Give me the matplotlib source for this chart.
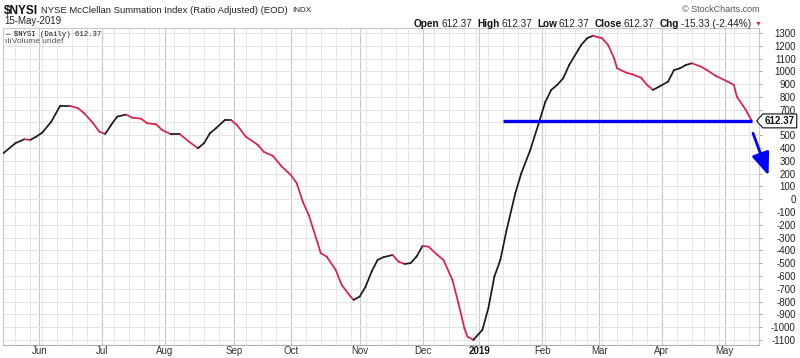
import numpy as np
import matplotlib
matplotlib.use("Agg")
import matplotlib.pyplot as plt
from matplotlib.collections import LineCollection
from matplotlib.path import Path
import matplotlib.transforms as mtransforms

plt.rcParams["font.family"] = ["Liberation Sans", "DejaVu Sans"]
plt.rcParams["axes.unicode_minus"] = False

# ── Data ──────────────────────────────────────────────────────────────────────
START_DATE = "2018-05-15"
END_DATE   = "2019-05-16"          # exclusive
NYSE_HOLIDAYS = ["2018-05-28", "2018-07-04", "2018-09-03", "2018-11-22",
                 "2018-12-05", "2018-12-25", "2019-01-01", "2019-01-21",
                 "2019-02-18", "2019-04-19"]

# trading-session number since START_DATE, and $NYSI value
session = [0, 4, 7, 9, 11, 13, 16, 19, 22, 25,
           27, 30, 32, 34, 36, 38, 41, 43, 46, 48,
           51, 53, 56, 59, 62, 65, 67, 69, 71, 74,
           76, 78, 81, 85, 87, 90, 93, 96, 98, 100,
           102, 105, 106, 108, 111, 113, 116, 117, 119, 121,
           123, 125, 127, 130, 132, 134, 136, 138, 140, 142,
           145, 147, 150, 152, 154, 155, 157, 160, 162, 164,
           166, 168, 171, 173, 176, 179, 181, 183, 185, 187,
           189, 192, 193, 195, 197, 198, 200, 202, 204, 205,
           208, 210, 213, 215, 217, 219, 222, 224, 226, 228,
           230, 233, 235, 238, 242, 244, 245, 248, 250]
nysi = [360, 438, 469, 464, 490, 521, 607, 732, 732, 711,
        672, 594, 529, 510, 581, 646, 662, 638, 630, 594,
        586, 542, 508, 508, 450, 399, 438, 516, 555, 620,
        620, 581, 489, 425, 370, 339, 255, 190, 125, -19,
        -123, -344, -422, -449, -553, -670, -762, -787, -762, -683,
        -566, -475, -453, -436, -488, -506, -500, -449, -365, -371,
        -436, -475, -631, -813, -1010, -1074, -1100, -1022, -852, -605,
        -475, -250, 47, 203, 385, 607, 760, 855, 894, 946,
        1050, 1167, 1206, 1259, 1279, 1271, 1259, 1206, 1102, 1024,
        990, 977, 951, 894, 855, 880, 919, 1010, 1024, 1050,
        1063, 1037, 1010, 964, 919, 894, 802, 698, 612.37]

LAST_CLOSE   = 612.37
SUPPORT_FROM = 167                  # session where the blue level starts
MONTH_LABELS = ["Jun", "Jul", "Aug", "Sep", "Oct", "Nov", "Dec",
                "2019", "Feb", "Mar", "Apr", "May"]
Y_TICKS = list(range(-1100, 1301, 100))

# ── Colours ───────────────────────────────────────────────────────────────────
UP_COLOR   = "#1a1a1a"
DOWN_COLOR = "#dc1f48"
BLUE       = "#0000ff"

# ── Trading calendar -> month / week grid positions ──────────────────────────
days = np.arange(np.datetime64(START_DATE), np.datetime64(END_DATE))
sessions = days[np.is_busday(days, holidays=NYSE_HOLIDAYS)]
months = sessions.astype("datetime64[M]")
month_start = np.flatnonzero(months[1:] != months[:-1]) + 1
weekday = (sessions.astype("int64") + 3) % 7
week_start = np.flatnonzero(weekday[1:] < weekday[:-1]) + 1

W, H = 800, 358
fig = plt.figure(figsize=(W / 100, H / 100), dpi=100)
ax = fig.add_axes([3 / W, 1 - 345 / H, 756 / W, 317 / H])


def px(x, y):
    return x / W, 1 - y / H


# ── Price line, coloured by direction ─────────────────────────────────────────
pts = np.column_stack([session, nysi])
segs = np.stack([pts[:-1], pts[1:]], axis=1)
cols = [UP_COLOR if b >= a else DOWN_COLOR for a, b in zip(nysi[:-1], nysi[1:])]
lc = LineCollection(segs, colors=cols, linewidths=1.25, capstyle="round",
                    joinstyle="round", zorder=3)
ax.add_collection(lc)

ax.hlines(LAST_CLOSE, SUPPORT_FROM, session[-1], color=BLUE, lw=2.4, zorder=4)
ax.annotate("", xy=(255.6, 185), xytext=(250.4, 516),
            arrowprops=dict(arrowstyle="-|>,head_length=1.15,head_width=0.45",
                            color=BLUE, lw=2.0, mutation_scale=12,
                            shrinkA=0, shrinkB=0),
            annotation_clip=False, zorder=6)

ax.set_xlim(-0.13, 252.4)
ax.set_ylim(-1140, 1339)

# ── Grid ──────────────────────────────────────────────────────────────────────
ax.set_xticks(month_start)
ax.set_xticklabels(MONTH_LABELS)
ax.set_xticks(week_start, minor=True)
ax.xaxis.grid(True, which="major", color="#c8c8c8", lw=0.8)
ax.xaxis.grid(True, which="minor", color="#e6e6e6", lw=0.7)
ax.yaxis.grid(True, which="major", color="#e3e3e3", lw=0.7)
ax.set_axisbelow(True)
ax.tick_params(axis="x", which="both", length=0, pad=1, labelsize=7,
               labelcolor="#333333")
for lbl in ax.get_xticklabels():
    if lbl.get_text() == "2019":
        lbl.set_fontweight("bold")
        lbl.set_color("#111111")

ax.yaxis.tick_right()
ax.set_yticks(Y_TICKS)
# the last-value tag sits over the 600 label, as in the original
ax.set_yticklabels(["" if v == 600 else str(v) for v in Y_TICKS])
ax.tick_params(axis="y", length=2.5, width=0.6, color="#999999", pad=24,
               labelsize=7, labelcolor="#222222")
for lbl in ax.get_yticklabels():
    lbl.set_horizontalalignment("right")

for side in ["left", "right", "top"]:
    ax.spines[side].set_color("#c8c8c8")
    ax.spines[side].set_linewidth(0.8)
ax.spines["bottom"].set_color("#b0b0b0")
ax.spines["bottom"].set_linestyle((0, (1, 1)))
ax.spines["bottom"].set_linewidth(0.8)


# ── Last-value tag ────────────────────────────────────────────────────────────
def tag_box(x0, y0, width, height, mutation_size):
    pad = 0.2 * mutation_size
    x0, y0 = x0 - pad, y0 - pad
    x1, y1 = x0 + width + 2 * pad, y0 + height + 2 * pad
    tip = (y1 - y0) * 0.45
    verts = [(x0, y0), (x1, y0), (x1, y1), (x0, y1), (x0 - tip, (y0 + y1) / 2), (x0, y0)]
    return Path(verts, closed=True)


blend = mtransforms.blended_transform_factory(ax.transAxes, ax.transData)
ax.text(1.0275, LAST_CLOSE, f"{LAST_CLOSE:.2f}", transform=blend, ha="center",
        va="center", fontsize=7, fontweight="bold", color="#111111",
        bbox=dict(boxstyle=tag_box, fc="white", ec="#111111", lw=0.8), zorder=7)

# ── Header text ───────────────────────────────────────────────────────────────
renderer = fig.canvas.get_renderer()


def text_run(x, y, pieces, align="left"):
    """pieces: list of (text, size, weight, color, gap_px_after)"""
    objs, widths = [], []
    for txt, size, weight, color, gap in pieces:
        t = fig.text(0, 0, txt, fontsize=size, fontweight=weight, color=color,
                     va="center", ha="left")
        objs.append(t)
        widths.append(t.get_window_extent(renderer).width + gap)
    total = sum(widths) - pieces[-1][4]
    cur = x if align == "left" else x - total
    for t, w in zip(objs, widths):
        t.set_position(px(cur, y))
        cur += w


text_run(4, 10.5, [("$NYSI", 8.6, "bold", "#111111", 3),
                   ("NYSE McClellan Summation Index (Ratio Adjusted) (EOD)", 6.8, "normal", "#222222", 4),
                   ("INDX", 5.8, "normal", "#222222", 0)])
fig.text(*px(4, 21.5), "15-May-2019", fontsize=7, color="#222222", va="center")
fig.text(*px(760, 9), "\u00a9 StockCharts.com", fontsize=6.5, color="#555555",
         va="center", ha="right")
text_run(751, 24, [("Open", 7.2, "bold", "#111111", 2), ("612.37", 7.2, "normal", "#222222", 5),
                   ("High", 7.2, "bold", "#111111", 2), ("612.37", 7.2, "normal", "#222222", 5),
                   ("Low", 7.2, "bold", "#111111", 2), ("612.37", 7.2, "normal", "#222222", 5),
                   ("Close", 7.2, "bold", "#111111", 2), ("612.37", 7.2, "normal", "#222222", 5),
                   ("Chg", 7.2, "bold", "#111111", 2), ("-15.33 (-2.44%)", 7.2, "normal", "#222222", 0)],
         align="right")
fig.text(*px(755, 24), "\u25bc", fontsize=5, color=DOWN_COLOR, va="center")

# legend lines inside the panel
fig.text(*px(5, 34), "\u2014 $NYSI (Daily) 612.37", fontsize=5.2,
         family=["Liberation Mono", "DejaVu Sans Mono"], color="#111111", va="center")
fig.text(*px(5, 41.5), "\u0131l\u0131Volume undef", fontsize=6, color="#555555", va="center")

fig.savefig("out.png", dpi=100)
